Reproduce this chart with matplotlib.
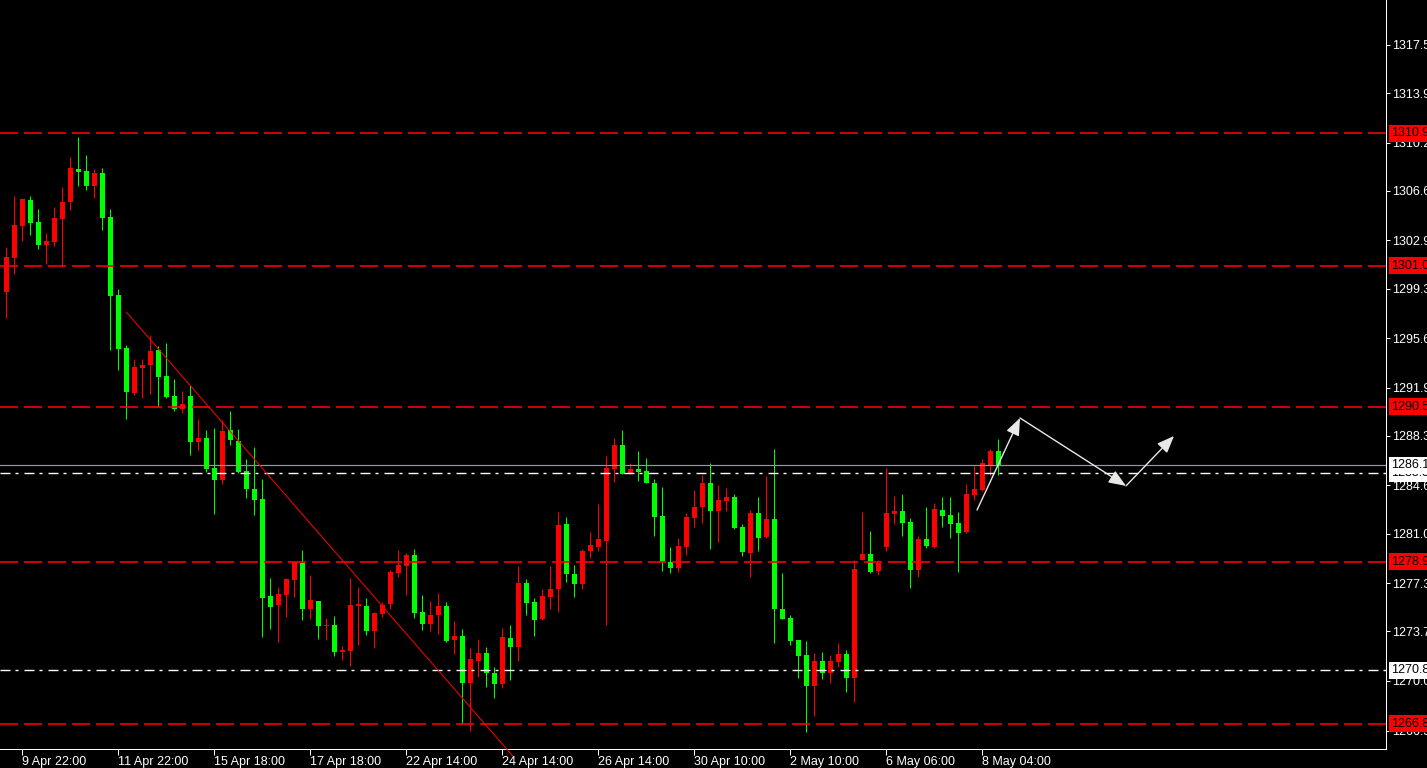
import matplotlib
matplotlib.use("Agg")
import matplotlib.pyplot as plt
import matplotlib.transforms as mtransforms
import numpy as np

# H4 candles, oldest first
opens = [1299.07, 1301.61, 1304.00, 1305.92, 1304.28, 1302.57, 1302.81, 1304.50, 1305.79, 1308.24,
         1308.09, 1306.99, 1307.94, 1304.65, 1298.83, 1294.87, 1291.51, 1293.40, 1293.60, 1294.72,
         1292.78, 1291.29, 1290.32, 1291.29, 1287.87, 1288.15, 1285.91, 1285.04, 1288.75, 1287.95,
         1285.69, 1284.34, 1283.59, 1276.35, 1275.68, 1276.43, 1277.55, 1278.82, 1275.38, 1275.98,
         1274.11, 1274.19, 1272.19, 1272.24, 1275.60, 1275.60, 1273.74, 1275.01, 1275.75, 1278.07,
         1278.59, 1279.41, 1275.16, 1274.26, 1274.93, 1275.60, 1273.07, 1273.36, 1269.88, 1271.52,
         1272.10, 1270.60, 1269.80, 1273.21, 1272.56, 1277.32, 1275.90, 1274.61, 1276.30, 1276.90,
         1281.73, 1278.00, 1277.27, 1279.71, 1280.01, 1280.48, 1285.84, 1287.63, 1285.46, 1285.84,
         1285.69, 1284.79, 1282.33, 1278.89, 1278.47, 1280.01, 1282.20, 1283.00, 1284.79, 1282.72,
         1283.45, 1283.74, 1281.50, 1279.56, 1282.55, 1280.76, 1282.10, 1275.38, 1274.71, 1273.07,
         1271.95, 1269.65, 1271.50, 1270.62, 1271.45, 1272.02, 1270.25, 1279.06, 1279.49, 1278.24,
         1280.03, 1282.50, 1282.70, 1281.88, 1278.31, 1280.61, 1280.03, 1282.77, 1282.40, 1281.80,
         1281.15, 1283.92, 1284.29, 1286.13, 1287.18]
highs = [1302.44, 1306.22, 1305.99, 1306.22, 1305.25, 1303.46, 1305.38, 1306.89, 1309.14, 1310.63,
         1309.28, 1308.24, 1308.31, 1305.25, 1299.28, 1295.10, 1294.05, 1294.05, 1295.84, 1294.99,
         1295.24, 1292.56, 1291.66, 1292.11, 1289.57, 1288.75, 1288.87, 1289.49, 1290.17, 1288.80,
         1286.58, 1287.48, 1285.09, 1277.70, 1277.02, 1277.70, 1278.89, 1279.79, 1277.92, 1275.98,
         1274.71, 1274.86, 1272.62, 1277.70, 1277.02, 1276.20, 1275.16, 1275.90, 1278.29, 1279.79,
         1279.56, 1279.86, 1276.43, 1275.98, 1276.58, 1275.90, 1274.48, 1273.89, 1272.47, 1273.14,
         1272.54, 1271.05, 1273.96, 1274.19, 1278.59, 1277.62, 1276.20, 1276.87, 1278.59, 1282.62,
         1282.25, 1278.67, 1279.86, 1281.13, 1283.22, 1286.81, 1288.15, 1288.75, 1286.28, 1287.18,
         1286.66, 1285.09, 1284.49, 1280.01, 1280.68, 1282.55, 1284.27, 1285.39, 1286.28, 1284.64,
         1284.42, 1283.97, 1281.73, 1282.77, 1283.74, 1285.31, 1287.33, 1278.07, 1274.93, 1273.07,
         1273.00, 1272.10, 1272.17, 1271.95, 1272.84, 1272.32, 1279.04, 1282.62, 1281.21, 1279.04,
         1285.91, 1283.82, 1283.97, 1282.18, 1280.83, 1283.00, 1283.30, 1283.74, 1283.74, 1282.62,
         1284.71, 1286.13, 1286.58, 1287.33, 1288.08]
lows = [1297.13, 1300.42, 1302.87, 1303.31, 1302.26, 1301.14, 1302.49, 1300.99, 1305.18, 1306.97,
        1306.67, 1306.10, 1303.71, 1294.74, 1293.25, 1289.57, 1291.36, 1291.16, 1291.46, 1290.52,
        1291.11, 1290.17, 1290.04, 1286.88, 1287.25, 1285.63, 1282.47, 1284.74, 1287.63, 1285.50,
        1283.67, 1282.40, 1273.29, 1273.89, 1272.92, 1274.78, 1276.28, 1274.56, 1274.63, 1273.14,
        1273.07, 1271.87, 1271.57, 1271.12, 1272.69, 1273.44, 1272.47, 1274.78, 1275.38, 1277.77,
        1276.43, 1274.71, 1273.81, 1273.74, 1273.51, 1272.92, 1272.02, 1266.81, 1266.29, 1270.32,
        1269.58, 1268.76, 1269.50, 1270.10, 1271.52, 1274.96, 1273.39, 1274.58, 1275.40, 1275.18,
        1277.42, 1276.30, 1276.90, 1279.21, 1279.74, 1274.21, 1284.89, 1285.46, 1285.46, 1284.94,
        1284.79, 1280.83, 1278.22, 1278.09, 1278.17, 1279.41, 1281.50, 1281.80, 1279.88, 1280.41,
        1282.70, 1281.35, 1279.34, 1277.77, 1279.71, 1280.68, 1272.84, 1274.63, 1272.69, 1270.25,
        1266.21, 1267.41, 1270.18, 1269.88, 1271.07, 1269.20, 1268.46, 1279.06, 1278.09, 1277.94,
        1279.73, 1281.75, 1280.85, 1276.97, 1277.79, 1279.96, 1279.96, 1281.52, 1280.70, 1278.17,
        1281.08, 1283.52, 1284.22, 1285.39, 1285.39]
closes = [1301.67, 1304.06, 1305.99, 1304.23, 1302.57, 1302.87, 1304.58, 1305.77, 1308.31, 1308.04,
          1306.99, 1307.94, 1304.60, 1298.78, 1294.80, 1291.61, 1293.45, 1293.60, 1294.65, 1292.71,
          1291.21, 1290.32, 1290.69, 1287.87, 1288.15, 1285.84, 1285.04, 1288.67, 1288.00, 1285.61,
          1284.34, 1283.54, 1276.22, 1275.53, 1276.50, 1277.62, 1278.89, 1275.38, 1276.05, 1274.11,
          1274.19, 1272.17, 1272.32, 1275.68, 1275.75, 1273.74, 1275.08, 1275.68, 1278.14, 1278.67,
          1279.41, 1275.08, 1274.26, 1274.93, 1275.60, 1272.99, 1273.36, 1269.88, 1271.65, 1272.10,
          1270.62, 1269.80, 1273.29, 1272.56, 1277.32, 1275.85, 1274.58, 1276.35, 1276.87, 1281.65,
          1278.02, 1277.27, 1279.71, 1280.16, 1280.61, 1285.91, 1287.63, 1285.46, 1285.84, 1285.61,
          1284.79, 1282.25, 1278.89, 1278.47, 1280.09, 1282.25, 1283.00, 1284.79, 1282.72, 1283.52,
          1283.74, 1281.43, 1279.64, 1282.55, 1280.68, 1282.10, 1275.38, 1274.63, 1272.99, 1271.89,
          1269.65, 1271.50, 1270.62, 1271.50, 1272.02, 1270.25, 1278.37, 1279.49, 1278.17, 1278.82,
          1282.55, 1282.70, 1281.83, 1278.31, 1280.61, 1280.11, 1282.85, 1282.33, 1281.75, 1281.08,
          1283.97, 1284.34, 1286.28, 1287.18, 1286.13]

date_labels = ["9 Apr 22:00", "11 Apr 22:00", "15 Apr 18:00", "17 Apr 18:00", "22 Apr 14:00",
               "24 Apr 14:00", "26 Apr 14:00", "30 Apr 10:00", "2 May 10:00", "6 May 06:00",
               "8 May 04:00"]
date_bars = [2, 14, 26, 38, 50, 62, 74, 86, 98, 110, 122]

price_ticks = [1317.5, 1313.9, 1310.2, 1306.6, 1302.9, 1299.3, 1295.6, 1291.9,
               1288.3, 1284.6, 1281.0, 1277.3, 1273.7, 1270.0, 1266.3]

red_levels = [1310.9, 1301.0, 1290.5, 1278.9, 1266.8]
white_levels = [1285.5, 1270.8]
bid = 1286.1

trend_x = [14.99, 63.3]
trend_y = [1297.56, 1264.40]
path_x = [121.34, 126.71, 139.96, 145.96]
path_y = [1282.77, 1289.64, 1284.57, 1288.30]

UP = "#ff0000"
DOWN = "#00ff00"
px = 0.72  # one pixel in points at dpi 100

plt.rcParams["font.family"] = ["Liberation Sans", "DejaVu Sans"]

fig = plt.figure(figsize=(14.27, 7.68), dpi=100, facecolor="black")
ax = fig.add_axes([0, 19 / 768, 1386 / 1427, 749 / 768], facecolor="black")

o = np.array(opens)
h = np.array(highs)
l = np.array(lows)
c = np.array(closes)
x = np.arange(len(o))
cols = np.where(c >= o, UP, DOWN)

ax.vlines(x, l, h, colors=cols, linewidth=px, zorder=2)
body_bot = np.minimum(o, c)
body_h = np.maximum(np.abs(c - o), 0.08)
ax.bar(x, body_h, bottom=body_bot, width=0.625, color=cols, linewidth=0, zorder=2)

# level lines
for lv in red_levels:
    ax.axhline(lv, color="#ff0000", lw=px * 1.6, ls=(0, (18 / 1.6, 6 / 1.6)), zorder=3)
for lv in white_levels:
    ax.axhline(lv, color="white", lw=px * 1.4, ls=(0, (10 / 1.4, 5 / 1.4, 3 / 1.4, 6 / 1.4)), zorder=3)
ax.axhline(bid, color="#9098a0", lw=px * 1.2, zorder=3)

# trendline
ax.plot(trend_x, trend_y, color="#ff0000", lw=px, zorder=3, clip_on=False)

# projected path
for i in range(len(path_x) - 1):
    ax.annotate("", xy=(path_x[i + 1], path_y[i + 1]), xytext=(path_x[i], path_y[i]),
                arrowprops=dict(arrowstyle="-|>,head_length=0.75,head_width=0.3", color="#e8e8e8",
                                lw=1.0, mutation_scale=14, shrinkA=0, shrinkB=0), zorder=4)

ax.set_xlim(-0.7875, 172.46)
ax.set_ylim(1264.92, 1320.86)

ax.yaxis.tick_right()
ax.set_yticks(price_ticks)
ax.set_yticklabels([f"{v:.1f}" for v in price_ticks])
ax.set_xticks(date_bars)
ax.set_xticklabels(date_labels, ha="left")
ax.tick_params(axis="y", colors="white", length=3, width=px, pad=1.5, labelsize=9)
ax.tick_params(axis="x", colors="white", length=4, width=px, pad=1.2, labelsize=9)

for side in ["top", "left"]:
    ax.spines[side].set_visible(False)
for side in ["right", "bottom"]:
    ax.spines[side].set_color("white")
    ax.spines[side].set_linewidth(px)

# price tags on the right scale
trans = mtransforms.blended_transform_factory(ax.transAxes, ax.transData)
tags = [(lv, "#ff0000") for lv in red_levels] + [(lv, "white") for lv in white_levels] + [(bid, "white")]
for lv, fc in tags:
    ax.text(1.0 + 5 / 1386, lv, f"{lv:.1f}", transform=trans, ha="left", va="center",
            fontsize=9, color="black", clip_on=False, zorder=5,
            bbox=dict(boxstyle="square,pad=0.2", fc=fc, ec="none"))

fig.savefig("out.png", dpi=100, facecolor="black")
